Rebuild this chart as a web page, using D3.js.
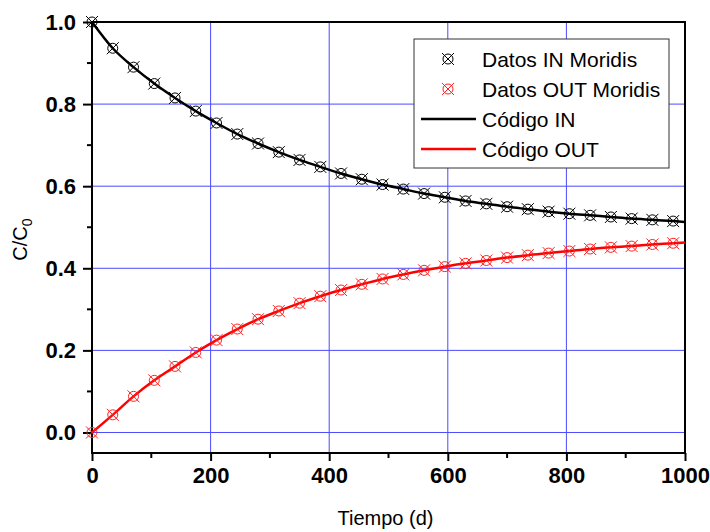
<!DOCTYPE html>
<html><head><meta charset="utf-8">
<script src="https://cdn.jsdelivr.net/npm/d3@7"></script>
<style>body{margin:0;background:#fff}svg{display:block}</style>
</head><body>
<svg id="chart" width="710" height="532"></svg>
<script>
const dataTime = [0,35,70,105,140,175,210,245,280,315,350,385,420,455,490,525,560,595,630,665,700,735,770,805,840,875,910,945,980];
const dataIn   = [1.0,0.936,0.890,0.850,0.815,0.783,0.754,0.727,0.704,0.683,0.664,0.647,0.631,0.617,0.604,0.593,0.582,0.573,0.564,0.557,0.550,0.544,0.538,0.533,0.529,0.525,0.521,0.518,0.515];
const dataOut  = [0.0,0.043,0.088,0.127,0.161,0.195,0.225,0.252,0.276,0.296,0.315,0.332,0.347,0.361,0.374,0.385,0.395,0.404,0.412,0.419,0.426,0.432,0.437,0.442,0.447,0.451,0.454,0.458,0.461];
const codeTime = [0,35,70,105,140,175,210,245,280,315,350,385,420,455,490,525,560,595,630,665,700,735,770,805,840,875,910,945,980,1000];
const codeIn   = [1.0,0.936,0.890,0.850,0.815,0.783,0.754,0.727,0.704,0.683,0.664,0.647,0.631,0.617,0.604,0.593,0.582,0.573,0.564,0.557,0.550,0.544,0.538,0.533,0.529,0.525,0.521,0.518,0.515,0.513];
const codeOut  = [0.0,0.043,0.088,0.127,0.161,0.195,0.225,0.252,0.276,0.296,0.315,0.332,0.347,0.361,0.374,0.385,0.395,0.404,0.412,0.419,0.426,0.432,0.437,0.442,0.447,0.451,0.454,0.458,0.461,0.463];
const xTicks = [0,200,400,600,800,1000];
const yTicks = [0.0,0.2,0.4,0.6,0.8,1.0];
const xMinor = [100,300,500,700,900];
const yMinor = [0.1,0.3,0.5,0.7,0.9];
const legendLabels = ["Datos IN Moridis","Datos OUT Moridis","Código IN","Código OUT"];

const svg = d3.select("#chart");
const L=92, R=685, T=22, B=453;
const x = d3.scaleLinear().domain([0,1000]).range([L,R]);
const y = d3.scaleLinear().domain([-0.05,1.0]).range([B,T]);
const grid = "#4a4aff";
const font = "'Liberation Sans', Arial, sans-serif";

// grid
svg.append("g").selectAll("line").data(xTicks.filter(d=>d>0&&d<1000)).join("line")
  .attr("x1",d=>x(d)).attr("x2",d=>x(d)).attr("y1",T).attr("y2",B)
  .attr("stroke",grid).attr("stroke-width",1);
svg.append("g").selectAll("line").data(yTicks.filter(d=>d<1.0)).join("line")
  .attr("x1",L).attr("x2",R).attr("y1",d=>y(d)).attr("y2",d=>y(d))
  .attr("stroke",grid).attr("stroke-width",1);

// frame
svg.append("rect").attr("x",L).attr("y",T).attr("width",R-L).attr("height",B-T)
  .attr("fill","none").attr("stroke","#000").attr("stroke-width",2);

// axes
const xAxis = d3.axisBottom(x).tickValues(xTicks).tickSize(8).tickPadding(6).tickFormat(d3.format("d"));
const gx = svg.append("g").attr("transform",`translate(0,${B})`).call(xAxis);
gx.select(".domain").remove();
gx.selectAll(".tick line").attr("stroke-width",2);
gx.selectAll("text").attr("font-family",font).attr("font-weight","bold").attr("font-size",22).attr("fill","#000");
svg.append("g").selectAll("line").data(xMinor).join("line")
  .attr("x1",d=>x(d)).attr("x2",d=>x(d)).attr("y1",B).attr("y2",B+5).attr("stroke","#000").attr("stroke-width",2);

const yAxis = d3.axisLeft(y).tickValues(yTicks).tickSize(9).tickPadding(7).tickFormat(d3.format(".1f"));
const gy = svg.append("g").attr("transform",`translate(${L},0)`).call(yAxis);
gy.select(".domain").remove();
gy.selectAll(".tick line").attr("stroke-width",2);
gy.selectAll("text").attr("font-family",font).attr("font-weight","bold").attr("font-size",22).attr("fill","#000");
svg.append("g").selectAll("line").data(yMinor).join("line")
  .attr("x1",L-5).attr("x2",L).attr("y1",d=>y(d)).attr("y2",d=>y(d)).attr("stroke","#000").attr("stroke-width",2);

// axis titles
svg.append("text").attr("x",(L+R)/2-3).attr("y",525).attr("text-anchor","middle")
  .attr("font-family",font).attr("font-size",20).text("Tiempo (d)");
const yt = svg.append("text").attr("transform",`translate(27,${(T+B)/2+2}) rotate(-90)`).attr("text-anchor","middle")
  .attr("font-family",font).attr("font-size",20);
yt.append("tspan").text("C/C");
yt.append("tspan").attr("font-size",14).attr("dy",5).text("0");

// lines
const line = d3.line().curve(d3.curveMonotoneX);
const clip = svg.append("clipPath").attr("id","clip").append("rect").attr("x",L).attr("y",T).attr("width",R-L).attr("height",B-T);
svg.append("path").attr("d",line(codeTime.map((t,i)=>[x(t),y(codeIn[i])])))
  .attr("fill","none").attr("stroke","#000").attr("stroke-width",2.5);
svg.append("path").attr("d",line(codeTime.map((t,i)=>[x(t),y(codeOut[i])])))
  .attr("fill","none").attr("stroke","#ff0000").attr("stroke-width",2.5);

// markers
function marker(g, cx, cy, color){
  const m = g.append("g").attr("transform",`translate(${cx},${cy})`).attr("stroke",color).attr("fill","none").attr("stroke-width",1);
  m.append("circle").attr("r",5);
  m.append("line").attr("x1",-6).attr("y1",-6).attr("x2",6).attr("y2",6);
  m.append("line").attr("x1",-6).attr("y1",6).attr("x2",6).attr("y2",-6);
}
const mg = svg.append("g");
dataTime.forEach((t,i)=>marker(mg, x(t), y(dataIn[i]), "#000"));
dataTime.forEach((t,i)=>marker(mg, x(t), y(dataOut[i]), "#ff2020"));

// legend
const lg = svg.append("g");
lg.append("rect").attr("x",414).attr("y",39).attr("width",255).attr("height",129)
  .attr("fill","#fff").attr("stroke","#333").attr("stroke-width",1);
const rowsY = [59,89,119,149];
marker(lg, 448, rowsY[0], "#000");
marker(lg, 448, rowsY[1], "#ff2020");
lg.append("line").attr("x1",421).attr("x2",476).attr("y1",rowsY[2]).attr("y2",rowsY[2]).attr("stroke","#000").attr("stroke-width",2.5);
lg.append("line").attr("x1",421).attr("x2",476).attr("y1",rowsY[3]).attr("y2",rowsY[3]).attr("stroke","#ff0000").attr("stroke-width",2.5);
lg.selectAll("text.l").data(legendLabels).join("text").attr("class","l")
  .attr("x",482).attr("y",(d,i)=>rowsY[i]+7.5).attr("font-family",font).attr("font-size",21).attr("fill","#000").text(d=>d);
</script>
</body></html>
